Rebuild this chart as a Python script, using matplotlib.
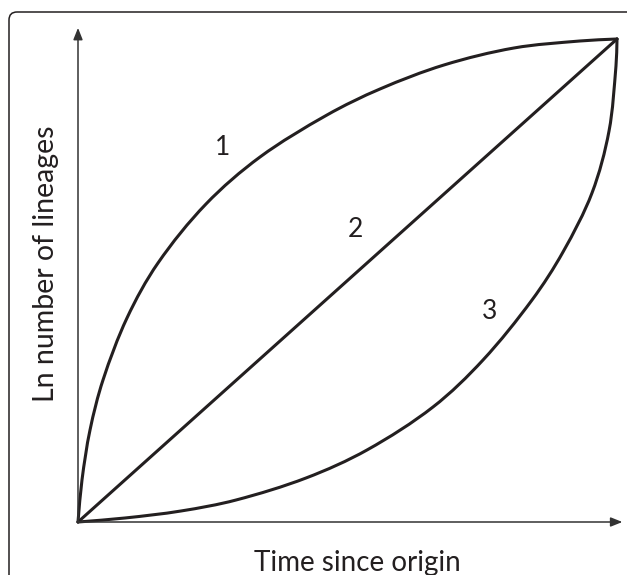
import math
import matplotlib
matplotlib.use("Agg")
import matplotlib.pyplot as plt
from matplotlib.patches import FancyBboxPatch, PathPatch
from matplotlib.path import Path
from matplotlib.transforms import IdentityTransform

plt.rcParams['font.family'] = ['Lato', 'DejaVu Sans']

# Normalised time since origin (x) and ln number of lineages (y)
curve1_time = [0.0, 0.0074, 0.0223, 0.0464, 0.0909, 0.1484, 0.2375, 0.3377,
               0.4620, 0.5603, 0.6790, 0.8089, 0.9314, 1.0]
curve1_lin = [0.0, 0.0870, 0.1905, 0.2940, 0.4224, 0.5362, 0.6584, 0.7557,
              0.8427, 0.8965, 0.9462, 0.9814, 0.9959, 1.0]

curve2_time = [0.0, 1.0]
curve2_lin = [0.0, 1.0]

curve3_time = [0.0, 0.0872, 0.1911, 0.2931, 0.4230, 0.5362, 0.6586, 0.7514,
               0.8423, 0.8998, 0.9536, 0.9852, 0.9981, 1.0]
curve3_lin = [0.0, 0.0083, 0.0228, 0.0455, 0.0911, 0.1491, 0.2381, 0.3354,
              0.4596, 0.5590, 0.6812, 0.8095, 0.9441, 1.0]

curve_labels = ["1", "2", "3"]
x_label = "Time since origin"
y_label = "Ln number of lineages"


def smooth_path(xs, ys):
    """Smooth Bezier path through the given points (chord-length scaled tangents)."""
    pts = list(zip(xs, ys))
    n = len(pts)
    if n < 3:
        return Path(pts)
    d = [math.hypot(pts[i + 1][0] - pts[i][0], pts[i + 1][1] - pts[i][1]) for i in range(n - 1)]
    tang = []
    for i in range(n):
        if i == 0:
            tang.append(((pts[1][0] - pts[0][0]) / d[0], (pts[1][1] - pts[0][1]) / d[0]))
        elif i == n - 1:
            tang.append(((pts[-1][0] - pts[-2][0]) / d[-1], (pts[-1][1] - pts[-2][1]) / d[-1]))
        else:
            s = d[i - 1] + d[i]
            tang.append(((pts[i + 1][0] - pts[i - 1][0]) / s, (pts[i + 1][1] - pts[i - 1][1]) / s))
    verts = [pts[0]]
    codes = [Path.MOVETO]
    for i in range(n - 1):
        p1, p2 = pts[i], pts[i + 1]
        c1 = (p1[0] + tang[i][0] * d[i] / 3, p1[1] + tang[i][1] * d[i] / 3)
        c2 = (p2[0] - tang[i + 1][0] * d[i] / 3, p2[1] - tang[i + 1][1] * d[i] / 3)
        verts += [c1, c2, p2]
        codes += [Path.CURVE4] * 3
    return Path(verts, codes)


W, H = 627, 575
fig = plt.figure(figsize=(W / 100, H / 100), dpi=100)
fig.patch.set_facecolor('white')

ax = fig.add_axes([78 / W, 53 / H, 539 / W, 483 / H])
ax.set_xlim(0, 1)
ax.set_ylim(0, 1)
ax.axis('off')

line_col = '#231f20'
for t, l in [(curve1_time, curve1_lin), (curve2_time, curve2_lin), (curve3_time, curve3_lin)]:
    patch = PathPatch(smooth_path(t, l), facecolor='none', edgecolor=line_col, lw=2.2,
                      joinstyle='round', capstyle='round', clip_on=False, zorder=3)
    ax.add_patch(patch)

# axes arrows
arrow_kw = dict(arrowstyle='-|>,head_length=0.7,head_width=0.28', color='#333333', lw=1.1,
                shrinkA=0, shrinkB=0)
ax.annotate('', xy=(1.010, 0), xytext=(0, 0), arrowprops=arrow_kw, annotation_clip=False)
ax.annotate('', xy=(0, 1.023), xytext=(0, 0), arrowprops=arrow_kw, annotation_clip=False)

label_pos = [(0.269, 0.776), (0.514, 0.605), (0.764, 0.435)]
for lab, (px, py) in zip(curve_labels, label_pos):
    ax.text(px, py, lab, fontsize=19, ha='center', va='center', color=line_col)

fig.text(357 / W, (H - 571) / H, x_label, fontsize=20, ha='center', va='baseline', color=line_col)
fig.text(46 / W, (H - 264) / H, y_label, fontsize=20.5, ha='center', va='center',
         rotation=90, color=line_col)

# rounded frame
frame = FancyBboxPatch((9, -30), 700, H - 12 + 30, boxstyle='round,pad=0,rounding_size=8',
                       transform=IdentityTransform(), fill=False, edgecolor=line_col, lw=1.1)
fig.add_artist(frame)

fig.savefig('out.png', dpi=100)
